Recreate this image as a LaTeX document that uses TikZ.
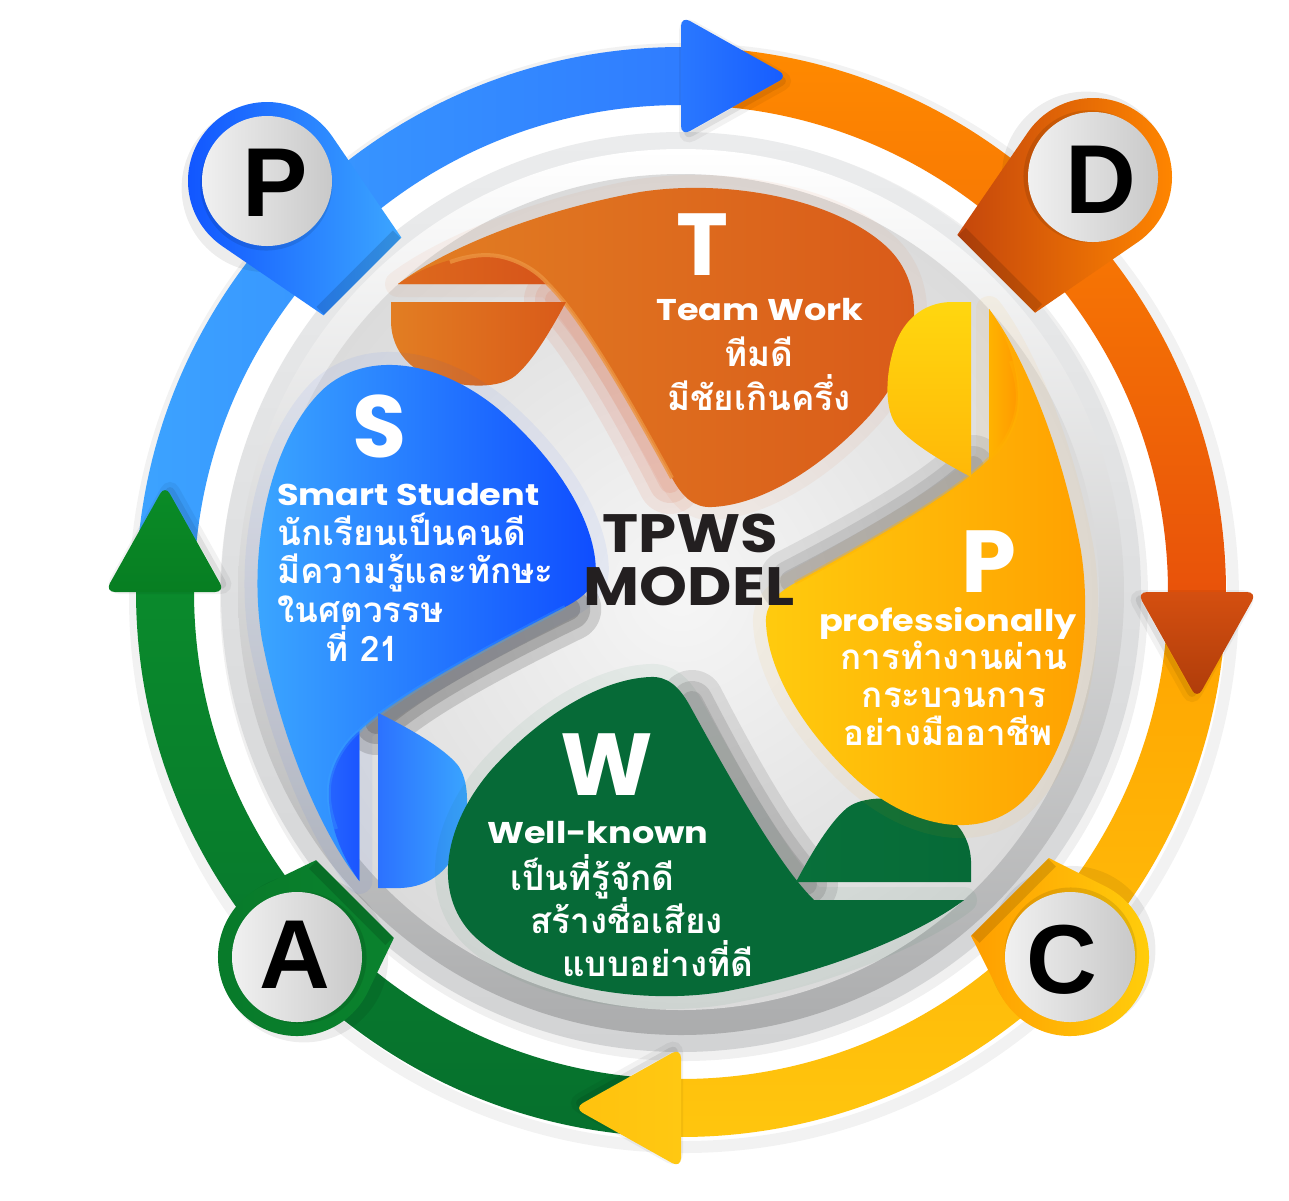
\documentclass[tikz,border=0pt]{standalone}
\usepackage{fontspec}
\setmainfont{Poppins}
\newfontfamily\thai[Script=Thai]{Loma}
\newfontfamily\helv{Liberation Sans}
\usetikzlibrary{fadings}
\definecolor{tdark}{HTML}{231F20}
\definecolor{rimA}{HTML}{EBECED}
\definecolor{rimB}{HTML}{D2D3D4}
\definecolor{rimC}{HTML}{ABACAD}
\definecolor{plateA}{HTML}{F6F6F6}
\definecolor{plateB}{HTML}{DBDBDB}
% blob colours
\definecolor{oT1}{HTML}{E27E23}\definecolor{oT2}{HTML}{D95A19}
\definecolor{oT3}{HTML}{DE6A1D}\definecolor{oT4}{HTML}{D6541A}
\definecolor{oTh}{HTML}{EC9440}
\definecolor{bS1}{HTML}{3CA8FF}\definecolor{bS2}{HTML}{0F4DFF}
\definecolor{bS3}{HTML}{2766FF}\definecolor{bS4}{HTML}{1A55FF}
\definecolor{bS5}{HTML}{2C72FF}\definecolor{bS6}{HTML}{3AA6FF}
\definecolor{yP1}{HTML}{FFCB0E}\definecolor{yP2}{HTML}{FFA000}
\definecolor{yP3}{HTML}{FFB300}\definecolor{yP4}{HTML}{FF9600}
\definecolor{yP5}{HTML}{FFD70F}\definecolor{yP6}{HTML}{FFB808}
\definecolor{gW}{HTML}{066A37}\definecolor{gW2}{HTML}{08703A}
% ring colours
\definecolor{bl1}{HTML}{3CA3FF}\definecolor{bl2}{HTML}{2F7CFF}
\definecolor{or1}{HTML}{FF8A00}\definecolor{or2}{HTML}{E8520A}
\definecolor{ye1}{HTML}{FFA400}\definecolor{ye2}{HTML}{FFC60E}
\definecolor{gr1}{HTML}{0A8A2C}\definecolor{gr2}{HTML}{06702D}
\definecolor{hb1}{HTML}{2A78FF}\definecolor{hb2}{HTML}{165CFF}
\definecolor{ho1}{HTML}{D44F10}\definecolor{ho2}{HTML}{AE3C0A}
\definecolor{hy1}{HTML}{FFC20E}\definecolor{hy2}{HTML}{FFC812}
\definecolor{hg1}{HTML}{0A8C27}\definecolor{hg2}{HTML}{077E22}
\definecolor{pb1}{HTML}{0F52FF}\definecolor{pb2}{HTML}{3CA6FF}
\definecolor{pd1}{HTML}{C4460C}\definecolor{pd2}{HTML}{FF8600}
\definecolor{pc1}{HTML}{FF9E00}\definecolor{pc2}{HTML}{FFD00C}
\definecolor{pa1}{HTML}{087A2A}\definecolor{pa2}{HTML}{0A822D}
% blob geometry (north orientation, pixel coords)
\def\mainT{(398,284) .. controls (440,252) and (530,212) .. (640,192) .. controls (730,178) and (840,200) .. (890,250) .. controls (930,292) and (918,360) .. (870,415) .. controls (820,470) and (760,505) .. (712,507) .. controls (695,508) and (683,498) .. (672,478) .. controls (640,420) and (585,320) .. (548,284) -- cycle}
\def\foldT{(398,284) .. controls (430,262) and (470,252) .. (498,256) .. controls (520,260) and (538,272) .. (548,284) -- cycle}
\def\edgeT{(450,262) .. controls (470,255) and (485,254) .. (498,256) .. controls (520,260) and (538,272) .. (548,284) .. controls (585,320) and (640,420) .. (672,478)}
\def\flapT{(391,302) -- (566,302) .. controls (550,332) and (532,362) .. (515,376) .. controls (500,388) and (468,388) .. (440,380) .. controls (405,370) and (390,345) .. (391,318) -- cycle}
\def\shadT{(556,300) .. controls (592,336) and (638,420) .. (670,482)}
\def\headP{(0,-576) -- (107,-516) -- (0,-456) -- cycle}
% #1 transform, #2 shadow colour, #3 shadow strength, #4 main, #5 fold, #6 flap, #7 highlight colour, #8 highlight opacity, #9 glow colour
\newcommand\drawblob[9]{%
\begin{scope}[#1]
 \draw[#9, opacity=0.06, line width=26, line join=round] \mainT;
 \foreach \w/\o in {64/0.3,42/0.35,22/0.35}{\pgfmathsetmacro\opx{#3*\o}%
   \draw[#2, opacity=\opx, line width=\w, line cap=round] \shadT;}
 \shade[#4] \mainT;
 \shade[#5] \foldT;
 \draw[#7, line width=4, opacity=#8] \edgeT;
 \shade[#6] \flapT;
\end{scope}}
\newcommand\drawband[3]{%
\begin{scope}[shift={(681,592)}]
 \shade[#3] (#1:545) arc[start angle=#1,end angle=#2,radius=545] -- (#2:487) arc[start angle=#2,end angle=#1,radius=487] -- cycle;
\end{scope}}
\newcommand\drawhead[2]{%
\begin{scope}[shift={(681,592)}, rotate=#1]
 \fill[black, opacity=0.08, rounded corners=10, line width=10, draw=black, draw opacity=0.05, xshift=3pt, yshift=-5pt] \headP;
 \shade[#2, rounded corners=10] \headP;
\end{scope}}
% badge: cx cy rot L a opts
\newcommand\drawbadge[6]{%
\begin{scope}[shift={(#1,#2)}, rotate=#3]
 \fill[black, opacity=0.07] (4,6) circle (84);
 \shade[#6] (#5:79) arc[start angle=#5, end angle={360-#5}, radius=79] -- (#4,-55) -- (#4,55) -- cycle;
 \fill[black, opacity=0.13] (#4-11,-54) rectangle (#4,54);
 \fill[black, opacity=0.10] (2,3) circle (66);
 \shade[left color=white!95!black, right color=white!78!black] (0,0) circle (65);
\end{scope}}
\begin{document}
\begin{tikzpicture}[x=1pt,y=-1pt,
  bigl/.style={text=white, font=\bfseries\fontsize{88}{88}\selectfont, inner sep=0},
  lat/.style={text=white, font=\bfseries\fontsize{30}{30}\selectfont, inner sep=0, xscale=1.17},
  th/.style={text=white, font=\thai\bfseries\fontsize{35}{35}\selectfont, inner sep=0},
  bl/.style={text=black, font=\helv\bfseries\fontsize{98}{98}\selectfont, inner sep=0},
  ctr/.style={text=tdark, font=\bfseries\fontsize{54}{54}\selectfont, inner sep=0, xscale=1.13}]
\useasboundingbox (0,0) rectangle (1289,1200);
\fill[white] (0,0) rectangle (1289,1200);
\coordinate (O) at (681,592);
% central plate
\draw[black, opacity=0.05, line width=12] (684,598) circle (549);
\fill[black, opacity=0.06] (684,597) circle (464);
\shade[top color=rimA, bottom color=rimB] (O) circle (460);
\shade[top color=white, bottom color=rimC] (O) circle (443);
\shade[inner color=plateA, outer color=plateB] (O) circle (418);
% blobs
\drawblob{}{brown!60!red}{0.3}{left color=oT1, right color=oT2}{left color=oT3, right color=oT4}{left color=oT1, right color=oT2}{oTh}{0.8}{oT2}
\drawblob{shift={(0,6)}, shift={(600,0)}, xscale=1.06, shift={(-600,0)}, rotate around={90:(681,592)}}{black!80}{0.6}{left color=bS1, right color=bS2}{left color=bS3, right color=bS4}{left color=bS5, right color=bS6}{bS1}{0.3}{bS2}
\drawblob{rotate around={180:(681,592)}}{black!80}{0.4}{left color=gW, right color=gW}{left color=gW, right color=gW}{left color=gW2, right color=gW}{gW2}{0.0}{gW}
\drawblob{rotate around={-90:(681,592)}}{black!80}{0.35}{left color=yP1, right color=yP2}{left color=yP3, right color=yP4}{top color=yP5, bottom color=yP6}{yP3}{0.4}{yP2}
% blob texts
\node[bigl, anchor=base] (tT) at (702,275) {T};
\node[lat, anchor=base] (tT1) at (760,320) {Team Work};
\node[th, anchor=base] (tT2) at (759,366) {ทีมดี};
\node[th, anchor=base] (tT3) at (759,410) {มีชัยเกินครึ่ง};
\node[bigl, anchor=base] (tS) at (380,457) {S};
\node[lat, anchor=base west] (tS1) at (277,505) {Smart Student};
\node[th, anchor=base west] (tS2) at (277,545) {นักเรียนเป็นคนดี};
\node[th, anchor=base west] (tS3) at (277,583) {มีความรู้และทักษะ};
\node[th, anchor=base west] (tS4) at (277,622) {ในศตวรรษ};
\node[th, anchor=base west] (tS5) at (325,661) {ที่ 21};
\node[bigl, anchor=base] (tP) at (989,592) {P};
\node[lat, anchor=base] (tP1) at (948,631) {professionally};
\node[th, anchor=base] (tP2) at (954,669) {การทำงานผ่าน};
\node[th, anchor=base] (tP3) at (954,707) {กระบวนการ};
\node[th, anchor=base] (tP4) at (948,745) {อย่างมืออาชีพ};
\node[bigl, anchor=base] (tW) at (607,795) {W};
\node[lat, anchor=base west] (tW1) at (487,843) {Well-known};
\node[th, anchor=base west] (tW2) at (510,890) {เป็นที่รู้จักดี};
\node[th, anchor=base west] (tW3) at (530,933) {สร้างชื่อเสียง};
\node[th, anchor=base west] (tW4) at (562,976) {แบบอย่างที่ดี};
\node[ctr, anchor=base] (m1) at (690,552) {TPWS};
\node[ctr, anchor=base] (m2) at (689,605) {MODEL};
% ring bands
\drawband{-179}{-89.5}{left color=bl1, right color=bl2}
\drawband{-89}{0.5}{top color=or1, bottom color=or2}
\drawband{1}{90.5}{top color=ye1, bottom color=ye2}
\drawband{91}{180.5}{top color=gr1, bottom color=gr2}
% arrow heads
\drawhead{0}{left color=hb1, right color=hb2}
\drawhead{-90}{top color=ho1, bottom color=ho2}
\drawhead{180}{left color=hy1, right color=hy2}
\drawhead{90}{top color=hg1, bottom color=hg2}
% badges
\drawbadge{267}{181}{-45}{135}{79.4}{left color=pb1, right color=pb2}
\drawbadge{1093}{177}{-135}{137}{79.4}{left color=pd1, right color=pd2}
\drawbadge{1070}{957}{135}{85}{71.6}{left color=pc1, right color=pc2}
\drawbadge{297}{957}{45}{82}{70.7}{left color=pa1, right color=pa2}
\node[bl, anchor=base] (bP) at (275,216) {P};
\node[bl, anchor=base] (bD) at (1101,213) {D};
\node[bl, anchor=base] (bC) at (1062,993) {C};
\node[bl, anchor=base] (bA) at (295,988) {A};
\end{tikzpicture}
\end{document}
